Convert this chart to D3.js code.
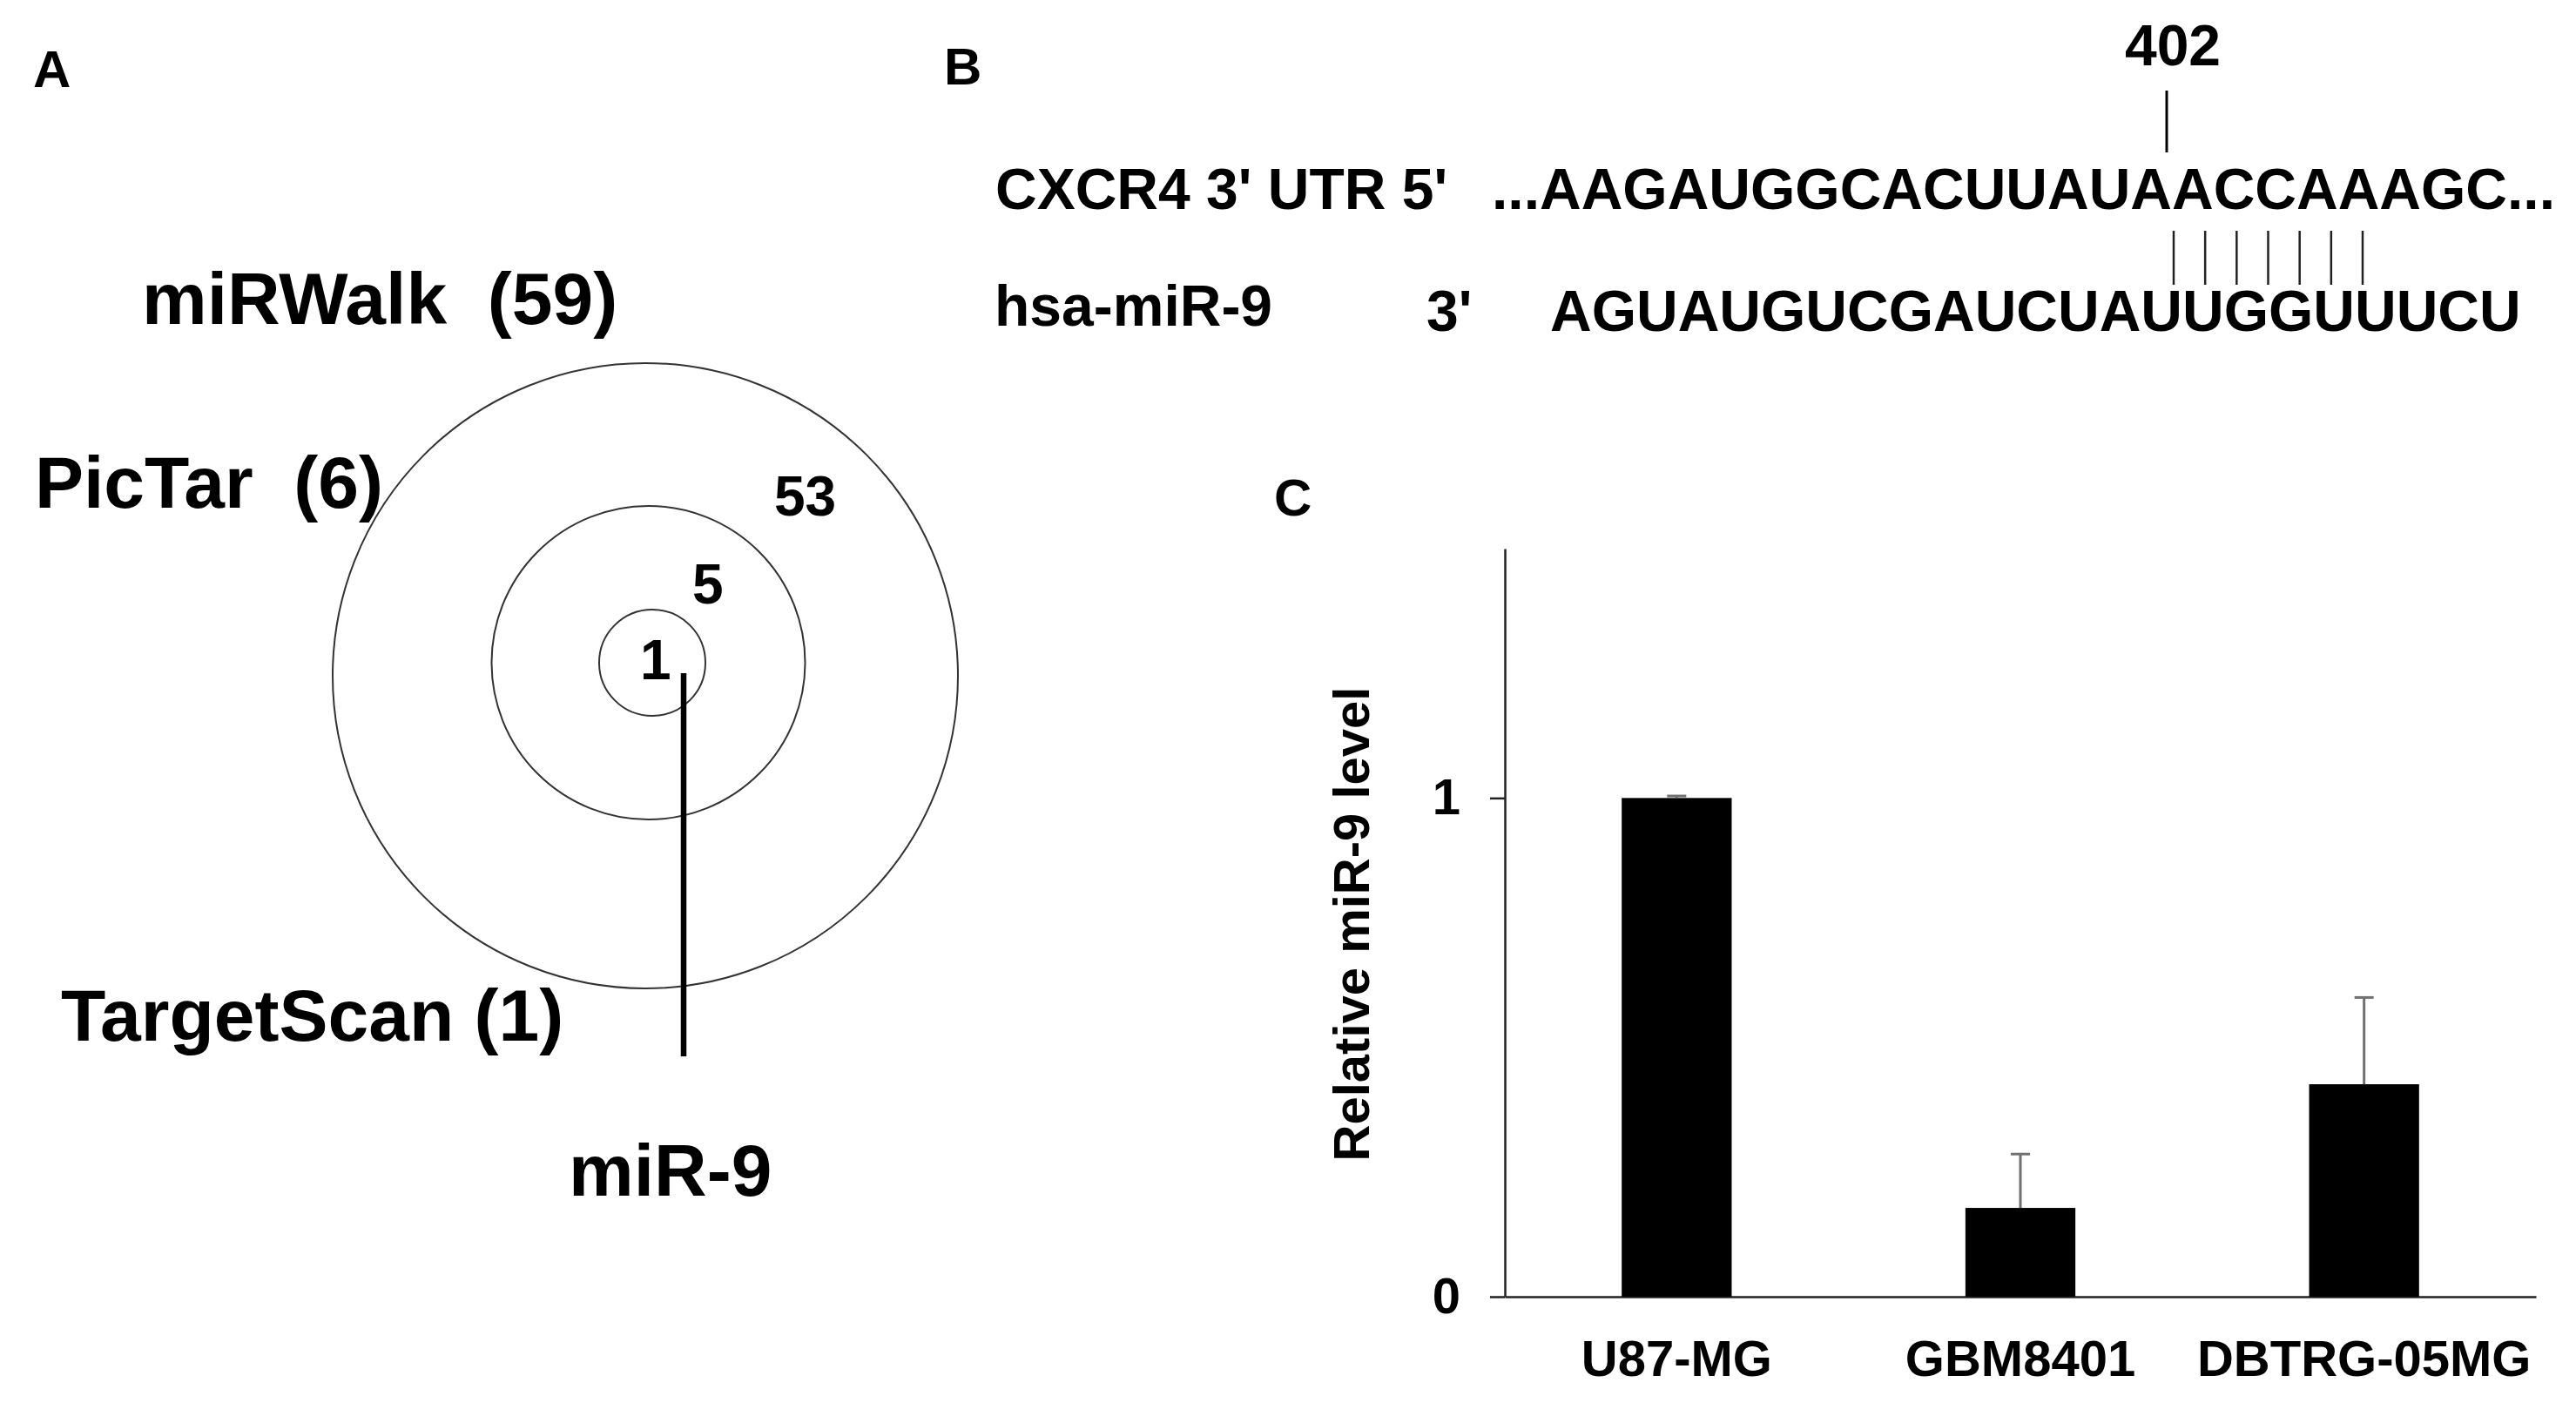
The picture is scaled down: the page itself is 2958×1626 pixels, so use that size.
<!DOCTYPE html>
<html lang="en-US">
<head>
<meta charset="utf-8">
<script src="https://d3js.org/d3.v7.min.js"></script>
<style>
body {
  margin: 0;
  background: #fff;
}

svg {
  display: block;
}

text {
  font-family: 'Liberation Sans', Arial, sans-serif;
  font-weight: bold;
  fill: #000;
  white-space: pre;
}

text.panel {
  font-size: 60px;
}

text.db {
  font-size: 84px;
}

text.count {
  font-size: 64px;
}

text.seq {
  font-size: 66px;
}

text.ylabel {
  font-size: 58px;
}

.axis text {
  font-size: 58px;
  font-family: 'Liberation Sans', Arial, sans-serif;
  font-weight: bold;
}

.axis path,
.axis line {
  stroke: #222;
  stroke-width: 2.5;
}

circle.db {
  fill: none;
  stroke: #333;
  stroke-width: 2;
}

.bar {
  fill: #000;
}

.err {
  stroke: #707070;
  stroke-width: 3;
}
</style>
</head>
<body>
<svg id="fig" width="2958" height="1626"></svg>

<script>
  // panel A - target prediction databases
  const databases = ['miRWalk', 'PicTar', 'TargetScan'];
  const dbCounts = [59, 6, 1];
  const dbSpacing = ['  ', '  ', ' '];
  const regionCounts = [53, 5, 1];
  const mirName = 'miR-9';

  // panel B - binding site
  const utrName = "CXCR4 3' UTR 5'";
  const utrSeq = '...AAGAUGGCACUUAUAACCAAAGC...';
  const mirFull = 'hsa-miR-9';
  const mirEnd = "3'";
  const mirSeq = 'AGUAUGUCGAUCUAUUGGUUUCU';
  const sitePosition = 402;
  const seedPairs = d3.range(7);

  // panel C - expression
  const cellLines = ['U87-MG', 'GBM8401', 'DBTRG-05MG'];
  const mir9Level = [1.0, 0.178, 0.426];
  const mir9Err = [0.004, 0.108, 0.174];
  const yTicks = [0, 1];
  const yLabel = 'Relative miR-9 level';

  const svg = d3.select('#fig');

  // panel letters
  const panelPos = [[38, 100], [1084, 97], [1463, 592]];
  svg.selectAll('text.panel')
    .data(['A', 'B', 'C'])
    .enter()
    .append('text')
    .attr('class', 'panel')
    .attr('x', (d, i) => panelPos[i][0])
    .attr('y', (d, i) => panelPos[i][1])
    .text((d) => d);

  //
  // A: nested circles
  //
  const radius = d3.scaleOrdinal().domain(databases).range([359, 180, 61]);
  const centers = [[741, 776], [744.5, 761], [749, 761]];
  const venn = svg.append('g');

  venn.selectAll('circle.db')
    .data(databases)
    .enter()
    .append('circle')
    .attr('class', 'db')
    .attr('cx', (d, i) => centers[i][0])
    .attr('cy', (d, i) => centers[i][1])
    .attr('r', (d) => radius(d));

  const dbLabelPos = [[163, 372], [40, 583], [70, 1195]];
  venn.selectAll('text.db')
    .data(databases)
    .enter()
    .append('text')
    .attr('class', 'db')
    .attr('x', (d, i) => dbLabelPos[i][0])
    .attr('y', (d, i) => dbLabelPos[i][1])
    .text((d, i) => `${d}${dbSpacing[i]}(${dbCounts[i]})`);

  const countPos = [[889, 592], [795, 693], [735, 780]];
  venn.selectAll('text.count')
    .data(regionCounts)
    .enter()
    .append('text')
    .attr('class', 'count')
    .attr('x', (d, i) => countPos[i][0])
    .attr('y', (d, i) => countPos[i][1])
    .text((d) => d);

  venn.append('line')
    .attr('x1', 785).attr('x2', 785)
    .attr('y1', 773).attr('y2', 1213)
    .attr('stroke', '#000')
    .attr('stroke-width', 6.5);

  venn.append('text')
    .attr('class', 'db')
    .attr('x', 653)
    .attr('y', 1373)
    .text(mirName);

  //
  // B: CXCR4 3'UTR / miR-9 pairing
  //
  const site = svg.append('g');

  site.append('text')
    .attr('class', 'seq')
    .attr('x', 2495)
    .attr('y', 75)
    .attr('text-anchor', 'middle')
    .text(sitePosition);

  site.append('line')
    .attr('x1', 2488).attr('x2', 2488)
    .attr('y1', 104).attr('y2', 175)
    .attr('stroke', '#000')
    .attr('stroke-width', 3);

  site.append('text').attr('class', 'seq').attr('x', 1143).attr('y', 240).text(utrName);
  site.append('text').attr('class', 'seq').attr('x', 1713).attr('y', 240).text(utrSeq);
  site.append('text').attr('class', 'seq').attr('x', 1142).attr('y', 374).text(mirFull);
  site.append('text').attr('class', 'seq').attr('x', 1638).attr('y', 380).text(mirEnd);
  site.append('text').attr('class', 'seq').attr('x', 1780).attr('y', 380).text(mirSeq);

  const pairX = d3.scaleLinear()
    .domain([0, seedPairs.length - 1])
    .range([2496, 2713]);

  site.selectAll('line.pair')
    .data(seedPairs)
    .enter()
    .append('line')
    .attr('class', 'pair')
    .attr('x1', (d) => pairX(d))
    .attr('x2', (d) => pairX(d))
    .attr('y1', 265)
    .attr('y2', 327)
    .attr('stroke', '#222')
    .attr('stroke-width', 2.5);

  //
  // C: bar chart
  //
  const chart = svg.append('g');

  const xScale = d3.scaleBand()
    .domain(cellLines)
    .range([1728, 2912]);

  const yScale = d3.scaleLinear()
    .domain([0, 1.5])
    .range([1489, 630]);

  const barW = xScale.bandwidth() * 0.32;

  chart.append('g')
    .attr('class', 'axis')
    .attr('transform', 'translate(0, 1489)')
    .call(d3.axisBottom(xScale).tickSize(0).tickSizeOuter(0).tickPadding(50));

  chart.append('g')
    .attr('class', 'axis')
    .attr('transform', 'translate(1728, 0)')
    .call(d3.axisLeft(yScale)
      .tickValues(yTicks)
      .tickSize(17)
      .tickSizeOuter(0)
      .tickPadding(34)
      .tickFormat(d3.format('d')));

  const bars = chart.selectAll('g.bar-g')
    .data(cellLines)
    .enter()
    .append('g')
    .attr('class', 'bar-g');

  bars.append('rect')
    .attr('class', 'bar')
    .attr('x', (d) => xScale(d) + xScale.bandwidth() / 2 - barW / 2)
    .attr('y', (d, i) => yScale(mir9Level[i]))
    .attr('width', barW)
    .attr('height', (d, i) => yScale(0) - yScale(mir9Level[i]));

  bars.append('line')
    .attr('class', 'err')
    .attr('x1', (d) => xScale(d) + xScale.bandwidth() / 2)
    .attr('x2', (d) => xScale(d) + xScale.bandwidth() / 2)
    .attr('y1', (d, i) => yScale(mir9Level[i]))
    .attr('y2', (d, i) => yScale(mir9Level[i] + mir9Err[i]));

  bars.append('line')
    .attr('class', 'err')
    .attr('x1', (d) => xScale(d) + xScale.bandwidth() / 2 - 11)
    .attr('x2', (d) => xScale(d) + xScale.bandwidth() / 2 + 11)
    .attr('y1', (d, i) => yScale(mir9Level[i] + mir9Err[i]))
    .attr('y2', (d, i) => yScale(mir9Level[i] + mir9Err[i]));

  chart.append('text')
    .attr('class', 'ylabel')
    .attr('transform', 'translate(1572, 1061) rotate(-90)')
    .attr('text-anchor', 'middle')
    .text(yLabel);
</script>
</body>
</html>
